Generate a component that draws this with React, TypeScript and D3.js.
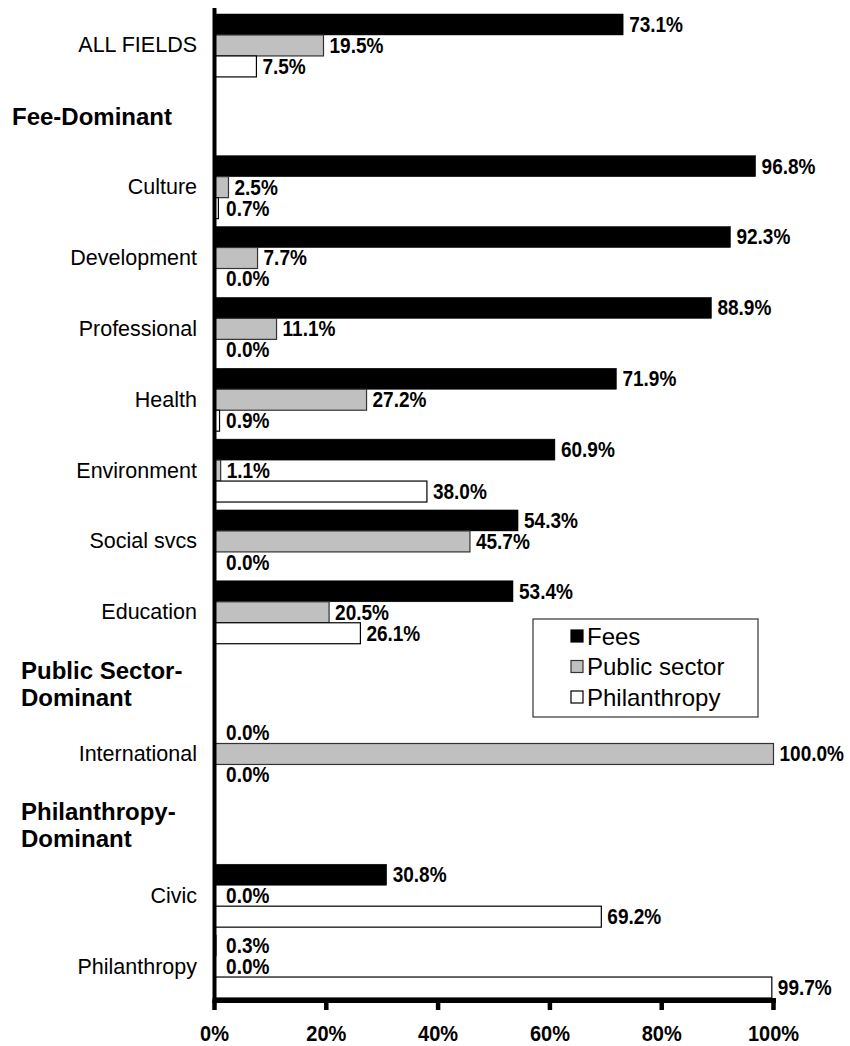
import React from "react";
import * as d3 from "d3";

// ---- data ----
const categories = [
  "ALL FIELDS",
  "Culture",
  "Development",
  "Professional",
  "Health",
  "Environment",
  "Social svcs",
  "Education",
  "International",
  "Civic",
  "Philanthropy",
];
const fees = [73.1, 96.8, 92.3, 88.9, 71.9, 60.9, 54.3, 53.4, 0.0, 30.8, 0.3];
const publicSector = [19.5, 2.5, 7.7, 11.1, 27.2, 1.1, 45.7, 20.5, 100.0, 0.0, 0.0];
const philanthropy = [7.5, 0.7, 0.0, 0.0, 0.9, 38.0, 0.0, 26.1, 0.0, 69.2, 99.7];

const seriesNames = ["Fees", "Public sector", "Philanthropy"];
const seriesValues = [fees, publicSector, philanthropy];

// group headers and where they sit (before which category)
const headers = [
  { before: "Culture", lines: ["Fee-Dominant"] },
  { before: "International", lines: ["Public Sector-", "Dominant"] },
  { before: "Civic", lines: ["Philanthropy-", "Dominant"] },
];

const xTicks = [0, 20, 40, 60, 80, 100];

// ---- styles ----
const FONT = "'Liberation Sans', Arial, Helvetica, sans-serif";
const fills = ["#000000", "#c0c0c0", "#ffffff"];
const strokes = ["#000000", "#333333", "#000000"];

export default function App() {
  const W = 850;
  const H = 1046;

  // build row order including header rows
  const rows: { key: string; type: "cat" | "hdr"; idx: number }[] = [];
  categories.forEach((c, i) => {
    headers.forEach((h, hi) => {
      if (h.before === c) rows.push({ key: "hdr" + hi, type: "hdr", idx: hi });
    });
    rows.push({ key: c, type: "cat", idx: i });
  });

  const y = d3
    .scaleBand<string>()
    .domain(rows.map((r) => r.key))
    .range([14, 998])
    .paddingInner(0.112)
    .paddingOuter(0);

  const ySub = d3
    .scaleBand<string>()
    .domain(seriesNames)
    .range([0, y.bandwidth()])
    .padding(0);

  const x = d3.scaleLinear().domain([0, 100]).range([214.5, 773.5]);

  const axisY = 1000.5;
  const fmt = (v: number) => v.toFixed(1) + "%";

  return (
    <svg
      width={W}
      height={H}
      style={{ position: "absolute", left: 0, top: 0, background: "#fff" }}
      fontFamily={FONT}
    >
      <rect x={0} y={0} width={W} height={H} fill="#fff" />

      {/* category labels */}
      {rows
        .filter((r) => r.type === "cat")
        .map((r) => (
          <text
            key={"cl" + r.key}
            x={197}
            y={(y(r.key) as number) + y.bandwidth() / 2}
            textAnchor="end"
            dominantBaseline="central"
            fontSize={21.5}
            fill="#000"
          >
            {r.key}
          </text>
        ))}

      {/* header labels */}
      {rows
        .filter((r) => r.type === "hdr")
        .map((r) => {
          const h = headers[r.idx];
          const cy = (y(r.key) as number) + y.bandwidth() / 2;
          const lh = 27;
          const x0 = r.idx === 0 ? 12 : 21;
          return (
            <text
              key={"hl" + r.key}
              fontSize={24}
              fontWeight="bold"
              fill="#000"
              dominantBaseline="central"
            >
              {h.lines.map((ln, li) => (
                <tspan
                  key={li}
                  x={x0}
                  y={cy + (li - (h.lines.length - 1) / 2) * lh}
                >
                  {ln}
                </tspan>
              ))}
            </text>
          );
        })}

      {/* bars + labels, series by series */}
      {seriesNames.map((s, si) => (
        <g key={"s" + s}>
          {categories.map((c, ci) => {
            const v = seriesValues[si][ci];
            const by = (y(c) as number) + (ySub(s) as number);
            const bh = ySub.bandwidth();
            const w = x(v) - x(0);
            const lx = Math.max(x(v), x(1)) + 6;
            const ly = by + bh / 2;
            return (
              <g key={"b" + c}>
                {v > 0 && (
                  <rect
                    x={x(0)}
                    y={by}
                    width={w}
                    height={bh}
                    fill={fills[si]}
                    stroke={strokes[si]}
                    strokeWidth={si === 0 ? 0.5 : 1.2}
                  />
                )}
                <text
                  transform={`translate(${lx},${ly}) scale(1,1.13)`}
                  x={0}
                  y={0}
                  dominantBaseline="central"
                  fontSize={19}
                  fontWeight="bold"
                  fill="#000"
                >
                  {fmt(v)}
                </text>
              </g>
            );
          })}
        </g>
      ))}

      {/* axes */}
      <line x1={x(0)} x2={x(0)} y1={8} y2={axisY + 2} stroke="#000" strokeWidth={4} />
      <line x1={x(0) - 2} x2={x(100) + 2.5} y1={axisY} y2={axisY} stroke="#000" strokeWidth={5} />
      {xTicks.map((t) => (
        <g key={"t" + t}>
          <line x1={x(t)} x2={x(t)} y1={axisY} y2={1010} stroke="#000" strokeWidth={4.5} />
          <text
            transform={`translate(${x(t)},1033.5) scale(1,1.13)`}
            x={0}
            y={0}
            textAnchor="middle"
            dominantBaseline="central"
            fontSize={20}
            fontWeight="bold"
            fill="#000"
          >
            {t + "%"}
          </text>
        </g>
      ))}

      {/* legend */}
      <rect x={533} y={619} width={225} height={98} fill="#fff" stroke="#333" strokeWidth={1.2} />
      {seriesNames.map((s, si) => {
        const cy = 636 + si * 30.5;
        return (
          <g key={"lg" + s}>
            <rect
              x={571}
              y={cy - 6}
              width={12}
              height={12}
              fill={fills[si]}
              stroke={strokes[si]}
              strokeWidth={1.2}
            />
            <text
              x={587}
              y={cy}
              dominantBaseline="central"
              fontSize={24}
              fill="#000"
            >
              {s}
            </text>
          </g>
        );
      })}
    </svg>
  );
}
